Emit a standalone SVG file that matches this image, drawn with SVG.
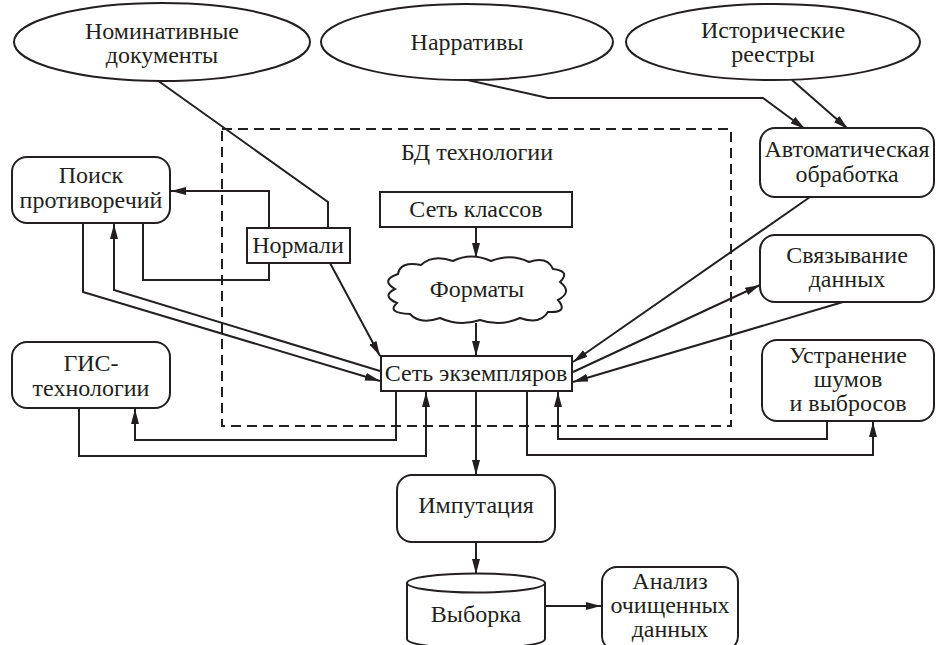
<svg xmlns="http://www.w3.org/2000/svg" width="936" height="645" viewBox="0 0 936 645" font-family="Times New Roman, Liberation Serif, DejaVu Serif, serif">
<defs>
<style>
.sh{fill:#fff;stroke:#231f20;stroke-width:2}
.t{font-size:24px;fill:#231f20;text-anchor:middle}
.c{fill:none;stroke:#231f20;stroke-width:2;stroke-linejoin:miter}
.a{marker-end:url(#ah)}
.dash{fill:none;stroke:#231f20;stroke-width:2;stroke-dasharray:10 6}
</style>
<marker id="ah" viewBox="0 0 15 8" refX="15" refY="4" markerWidth="15" markerHeight="8" markerUnits="userSpaceOnUse" orient="auto">
<path d="M0,0 L15,4 L0,8 Z" fill="#231f20"/>
</marker>
</defs>
<rect width="936" height="645" fill="#fff"/>

<g id="bd">
<rect class="dash" x="222" y="129" width="509" height="297"/>
<text class="t" x="477" y="160">БД технологии</text>
</g>

<g id="connectors">
<polyline class="c" points="157,80 328,202 328,228"/>
<polyline class="c a" points="269,228 269,191 171,191"/>
<polyline class="c" points="143,223 143,280 269,280 269,263"/>
<polyline class="c a" points="330,263 380,356"/>
<polyline class="c a" points="83,223 83,292 380,381"/>
<polyline class="c a" points="380,371 114,290 114,224"/>
<polyline class="c a" points="476,227 476,258"/>
<polyline class="c a" points="476,323 476,356"/>
<polyline class="c a" points="463,79 548,98 763,98 805,129"/>
<polyline class="c a" points="792,80 848,129"/>
<polyline class="c a" points="810,197 573,362"/>
<polyline class="c a" points="573,372 760,285"/>
<polyline class="c a" points="843,302 573,382"/>
<polyline class="c a" points="396,391 396,440 135,440 135,409"/>
<polyline class="c a" points="79,408 79,456 426,456 426,392"/>
<polyline class="c a" points="527,391 527,455 873,455 873,422"/>
<polyline class="c a" points="827,421 827,439 558,439 558,392"/>
<polyline class="c a" points="476,391 476,475"/>
<polyline class="c a" points="476,542 476,574"/>
<polyline class="c a" points="545,606 601,606"/>
</g>

<g id="nominative">
<ellipse class="sh" cx="162" cy="42" rx="148" ry="39"/>
<text class="t" x="162" y="39">Номинативные</text>
<text class="t" x="162" y="63">документы</text>
</g>
<g id="narratives">
<ellipse class="sh" cx="467" cy="42" rx="146" ry="38"/>
<text class="t" x="467" y="50">Нарративы</text>
</g>
<g id="registers">
<ellipse class="sh" cx="773" cy="42" rx="147" ry="38"/>
<text class="t" x="773" y="38">Исторические</text>
<text class="t" x="773" y="62">реестры</text>
</g>

<g id="search">
<rect class="sh" x="12" y="157" width="158" height="66" rx="15"/>
<text class="t" x="91" y="183">Поиск</text>
<text class="t" x="91" y="208">противоречий</text>
</g>
<g id="normals">
<rect class="sh" x="247" y="228" width="103" height="35"/>
<text class="t" x="298" y="253">Нормали</text>
</g>
<g id="classes">
<rect class="sh" x="380" y="192" width="192" height="35"/>
<text class="t" x="476" y="217">Сеть классов</text>
</g>
<g id="formats">
<path class="sh" d="M398,274 Q400,261 421,265 Q433,254 453,261 Q471,252 491,261 Q511,253 529,262 Q547,256 553,269 Q571,271 560,282 Q573,292 558,300 Q569,313 548,312 Q540,325 520,318 Q500,327 480,320 Q460,327 440,318 Q420,325 410,314 Q386,313 397,303 Q381,296 395,289 Q380,280 398,274 Z"/>
<text class="t" x="477" y="297">Форматы</text>
</g>
<g id="instances">
<rect class="sh" x="381" y="356" width="191" height="35"/>
<text class="t" x="476" y="381">Сеть экземпляров</text>
</g>
<g id="gis">
<rect class="sh" x="12" y="342" width="158" height="66" rx="15"/>
<text class="t" x="91" y="371">ГИС-</text>
<text class="t" x="91" y="396">технологии</text>
</g>
<g id="auto">
<rect class="sh" x="760" y="128" width="174" height="69" rx="15"/>
<text class="t" x="847" y="157">Автоматическая</text>
<text class="t" x="847" y="182">обработка</text>
</g>
<g id="linking">
<rect class="sh" x="760" y="235" width="174" height="67" rx="15"/>
<text class="t" x="847" y="263">Связывание</text>
<text class="t" x="847" y="287">данных</text>
</g>
<g id="noise">
<rect class="sh" x="762" y="340" width="172" height="81" rx="15"/>
<text class="t" x="848" y="363">Устранение</text>
<text class="t" x="848" y="387">шумов</text>
<text class="t" x="848" y="411">и выбросов</text>
</g>
<g id="imputation">
<rect class="sh" x="397" y="475" width="158" height="67" rx="15"/>
<text class="t" x="476" y="513">Импутация</text>
</g>
<g id="sample">
<path class="sh" d="M407,583 A68.5,9.5 0 0 1 545,583 L545,639 A68.5,9.5 0 0 1 407,639 Z"/>
<path class="c" d="M407,583 A68.5,9.5 0 0 0 545,583"/>
<text class="t" x="476" y="622">Выборка</text>
</g>
<g id="analysis">
<rect class="sh" x="602" y="567" width="136" height="84" rx="15"/>
<text class="t" x="670" y="589">Анализ</text>
<text class="t" x="670" y="613">очищенных</text>
<text class="t" x="670" y="637">данных</text>
</g>
</svg>
